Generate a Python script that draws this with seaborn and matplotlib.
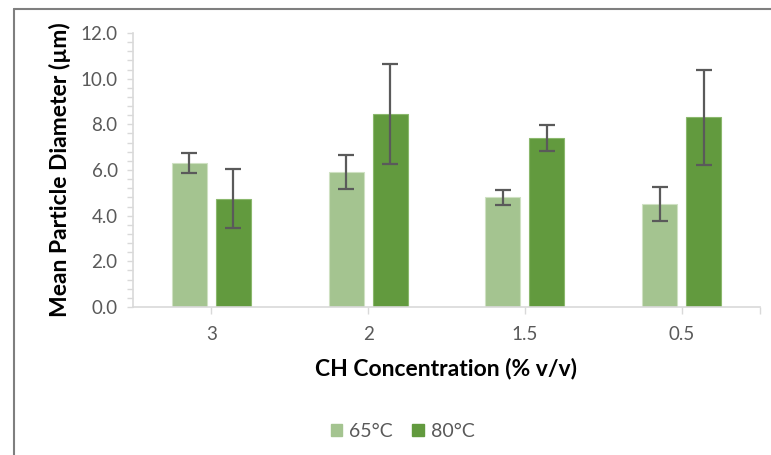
import matplotlib
matplotlib.use("Agg")
import matplotlib.pyplot as plt
from matplotlib.lines import Line2D
from matplotlib.ticker import MultipleLocator, FixedLocator
import numpy as np
import pandas as pd
import seaborn as sns

# Data
concentrations = ["3", "2", "1.5", "0.5"]
temperatures = ["65°C", "80°C"]
mean_65 = [6.3, 5.9, 4.8, 4.5]
mean_80 = [4.75, 8.45, 7.4, 8.3]
err_65 = [0.43, 0.74, 0.32, 0.75]
err_80 = [1.28, 2.2, 0.55, 2.1]

colors = {"65°C": "#A4C490", "80°C": "#629A3E"}
edge_colors = {"65°C": "#CFE1C3", "80°C": "#8BB86D"}

df = pd.DataFrame({
    "conc": concentrations * 2,
    "temp": [temperatures[0]] * 4 + [temperatures[1]] * 4,
    "diam": mean_65 + mean_80,
    "err": err_65 + err_80,
})

sns.set_theme(style="white")
plt.rcParams["font.family"] = ["Lato", "DejaVu Sans"]

fig = plt.figure(figsize=(7.71, 4.55), dpi=100)
ax = fig.add_axes([0.1725, 0.3253, 0.8132, 0.6022])

sns.barplot(data=df, x="conc", y="diam", hue="temp", order=concentrations,
            hue_order=temperatures, palette=colors, width=0.56, gap=0.2,
            errorbar=None, legend=False, ax=ax, saturation=1)

# Outline and error bars taken from the drawn bars
for container, temp in zip(ax.containers, temperatures):
    sub = df[df.temp == temp].set_index("conc").loc[concentrations]
    xs = []
    for patch in container.patches:
        patch.set_edgecolor(edge_colors[temp])
        patch.set_linewidth(0.8)
        xs.append(patch.get_x() + patch.get_width() / 2)
    ax.errorbar(xs, sub["diam"].values, yerr=sub["err"].values, fmt="none",
                ecolor="#5A5A5A", elinewidth=1.6, capsize=5.5, capthick=1.6,
                zorder=5)

ax.set_ylim(0, 12)
ax.set_xlim(-0.5, 3.5)
ax.yaxis.set_major_locator(MultipleLocator(2))
ax.yaxis.set_minor_locator(MultipleLocator(0.4))
ax.set_yticklabels([f"{v:.1f}" for v in ax.get_yticks()])
ax.xaxis.set_minor_locator(FixedLocator([3.5]))

for side in ["top", "right"]:
    ax.spines[side].set_visible(False)
for side in ["left", "bottom"]:
    ax.spines[side].set_color("#D9D9D9")
    ax.spines[side].set_linewidth(1.2)

ax.tick_params(axis="y", which="both", left=True, direction="out",
               color="#D9D9D9", labelcolor="#595959", labelsize=13.5,
               length=4, width=1, pad=7)
ax.tick_params(axis="x", which="both", bottom=True, direction="out",
               color="#D9D9D9", labelcolor="#595959", labelsize=13.5,
               length=5, width=1, pad=9)

ax.set_ylabel("Mean Particle Diameter (µm)", fontsize=16.5, fontweight="bold",
              color="black", labelpad=7)
ax.set_xlabel("CH Concentration (% v/v)", fontsize=16.5, fontweight="bold",
              color="black", labelpad=10)

handles = [plt.Rectangle((0, 0), 1, 1, color=colors[t]) for t in temperatures]
fig.legend(handles, temperatures, loc="center", bbox_to_anchor=(0.522, 0.052),
           ncol=2, frameon=False, fontsize=14, labelcolor="#595959",
           handlelength=0.6, handleheight=0.6, handletextpad=0.35,
           columnspacing=1.0)

# Chart frame (left and top edges)
fig.add_artist(Line2D([14 / 771, 14 / 771], [0, 1 - 9 / 455],
                      color="#7F7F7F", lw=1.5, transform=fig.transFigure))
fig.add_artist(Line2D([14 / 771, 1], [1 - 9 / 455, 1 - 9 / 455],
                      color="#7F7F7F", lw=1.5, transform=fig.transFigure))

fig.savefig("out.png", dpi=100, facecolor="white")
